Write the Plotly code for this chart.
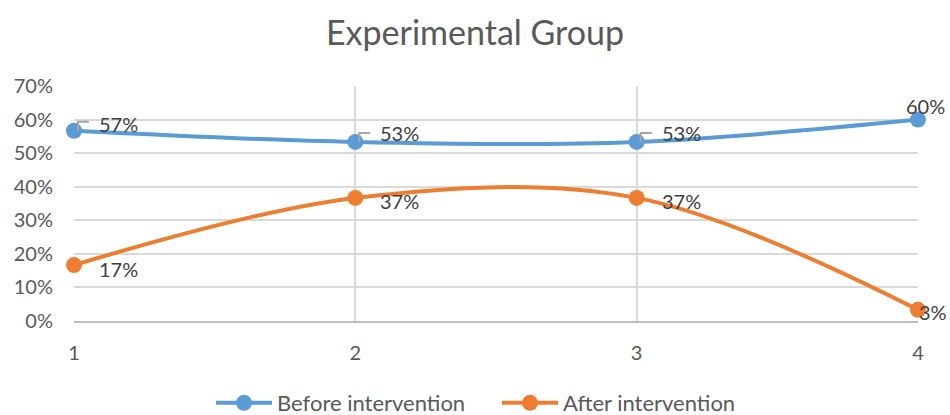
import plotly.graph_objects as go

# Survey rounds and shares of respondents (as fractions)
rounds = [1, 2, 3, 4]
before = [17 / 30, 16 / 30, 16 / 30, 18 / 30]
after = [5 / 30, 11 / 30, 11 / 30, 1 / 30]
series_names = ["Before intervention", "After intervention"]
y_ticks = [0, 0.1, 0.2, 0.3, 0.4, 0.5, 0.6, 0.7]

BLUE = "#5B9BD5"
ORANGE = "#ED7D31"
GRID = "#D9D9D9"
TEXT = "#595959"
LABEL = "#404040"
FONT = "Lato"

# pixel offsets (dx, dy-down) of each data label from its point
before_offsets = [(23, -7), (23, -9), (23, -9), (-14, -14)]
after_offsets = [(23, 4), (23, 3), (23, 3), (-1, 2)]
# which before-labels carry a leader line
before_leaders = [True, True, True, False]

fig = go.Figure()
for name, vals, color in [(series_names[0], before, BLUE), (series_names[1], after, ORANGE)]:
    fig.add_trace(go.Scatter(
        x=rounds, y=vals, name=name, mode="lines+markers",
        line=dict(color=color, width=4, shape="spline", smoothing=1),
        marker=dict(color=color, size=16),
        cliponaxis=False,
    ))

annotations = []
shapes = []
for vals, offs in [(before, before_offsets), (after, after_offsets)]:
    for x, v, (dx, dy) in zip(rounds, vals, offs):
        annotations.append(dict(
            x=x, y=v, xref="x", yref="y", text=f"{round(v * 100)}%",
            showarrow=False, xanchor="left", yanchor="middle",
            xshift=dx, yshift=-dy,
            font=dict(family=FONT, size=20, color=LABEL),
        ))

for x, v, lead in zip(rounds, before, before_leaders):
    if lead:
        shapes.append(dict(
            type="path", xref="x", yref="y",
            xsizemode="pixel", ysizemode="pixel",
            xanchor=x, yanchor=v,
            path="M 4,0 L 4,9 L 15,9",
            line=dict(color="#A6A6A6", width=2),
            layer="above",
        ))

fig.update_layout(
    width=950, height=415,
    margin=dict(l=74, r=32, t=86, b=94, autoexpand=False),
    paper_bgcolor="white", plot_bgcolor="white",
    title=dict(text="Experimental Group", x=0.5, xanchor="center",
               y=1 - 33 / 415, yanchor="middle",
               font=dict(family=FONT, size=34, color=TEXT)),
    xaxis=dict(
        range=[1, 4], tickmode="array", tickvals=rounds,
        ticktext=[str(r) for r in rounds],
        showgrid=True, gridcolor=GRID, gridwidth=1.5,
        showline=True, linecolor="#BFBFBF", linewidth=1.5,
        zeroline=False, ticks="", ticklabelstandoff=13,
        tickfont=dict(family=FONT, size=20, color=TEXT),
        automargin=False,
    ),
    yaxis=dict(
        range=[0, 0.7], tickmode="array", tickvals=y_ticks, tickformat=".0%",
        showgrid=True, gridcolor=GRID, gridwidth=1.5,
        showline=False, zeroline=False, ticks="", ticklabelstandoff=20,
        tickfont=dict(family=FONT, size=20, color=TEXT),
        automargin=False,
    ),
    legend=dict(orientation="h", x=(211 - 74) / 844, xanchor="left",
                y=-(403 - 321) / 235, yanchor="middle",
                font=dict(family=FONT, size=22, color=TEXT),
                itemwidth=56, entrywidth=215, entrywidthmode="pixels",
                tracegroupgap=0),
    annotations=annotations,
    shapes=shapes,
    showlegend=True,
)

fig.write_html("out.html")
